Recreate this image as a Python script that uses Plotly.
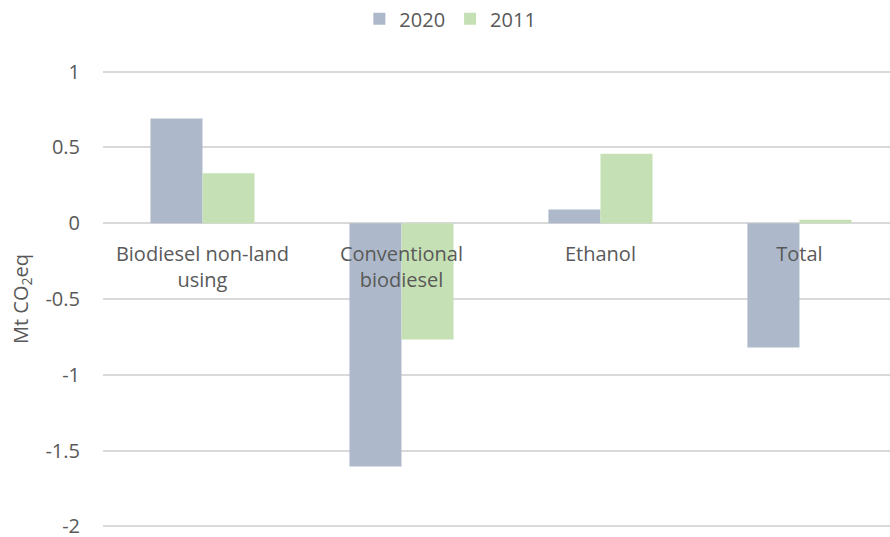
import plotly.graph_objects as go

categories = ["Biodiesel non-land<br>using", "Conventional<br>biodiesel", "Ethanol", "Total"]
values_2020 = [0.69, -1.605, 0.09, -0.82]
values_2011 = [0.33, -0.767, 0.458, 0.022]
y_ticks = [1, 0.5, 0, -0.5, -1, -1.5, -2]
y_tick_labels = ["1", "0.5", "0", "-0.5", "-1", "-1.5", "-2"]

FONT = "Open Sans"
TXT = "#595959"
GRID = "#D9D9D9"
Y_RANGE = [-2.01, 1.01]

fig = go.Figure()
fig.add_trace(go.Bar(name="2020", x=categories, y=values_2020, marker=dict(color="#ADB9CA", line=dict(width=0))))
fig.add_trace(go.Bar(name="2011", x=categories, y=values_2011, marker=dict(color="#C5E0B4", line=dict(width=0))))

fig.update_layout(
    width=890, height=537,
    margin=dict(l=103, r=0, t=70, b=9, autoexpand=False),
    paper_bgcolor="white", plot_bgcolor="white",
    font=dict(family=FONT, size=20, color=TXT),
    barmode="group", bargap=0.477, bargroupgap=0,
    showlegend=True,
    legend=dict(orientation="h", xref="container", yref="container",
                x=0.506, xanchor="center", y=0.965, yanchor="middle",
                font=dict(size=20, color=TXT), itemwidth=30, traceorder="normal"),
    xaxis=dict(type="category", range=[-0.5, 3.455], anchor="free",
               position=(0 - Y_RANGE[0]) / (Y_RANGE[1] - Y_RANGE[0]),
               showline=False, showgrid=False, zeroline=False, ticks="", automargin=False,
               tickfont=dict(size=20, color=TXT), ticklabelstandoff=17),
    yaxis=dict(range=Y_RANGE, tickvals=y_ticks, ticktext=y_tick_labels,
               showgrid=True, gridcolor=GRID, gridwidth=1.5, automargin=False,
               zeroline=True, zerolinecolor=GRID, zerolinewidth=2,
               showline=False, ticks="", ticklabelstandoff=22, ticklabeloverflow="allow",
               tickfont=dict(size=20, color=TXT),
               title=dict(text="Mt CO<sub>2</sub>eq", font=dict(size=20, color=TXT), standoff=11)),
)

fig.write_html("out.html", config={"displayModeBar": False},
               post_script="document.body.style.margin='0';document.body.style.overflow='hidden';")
